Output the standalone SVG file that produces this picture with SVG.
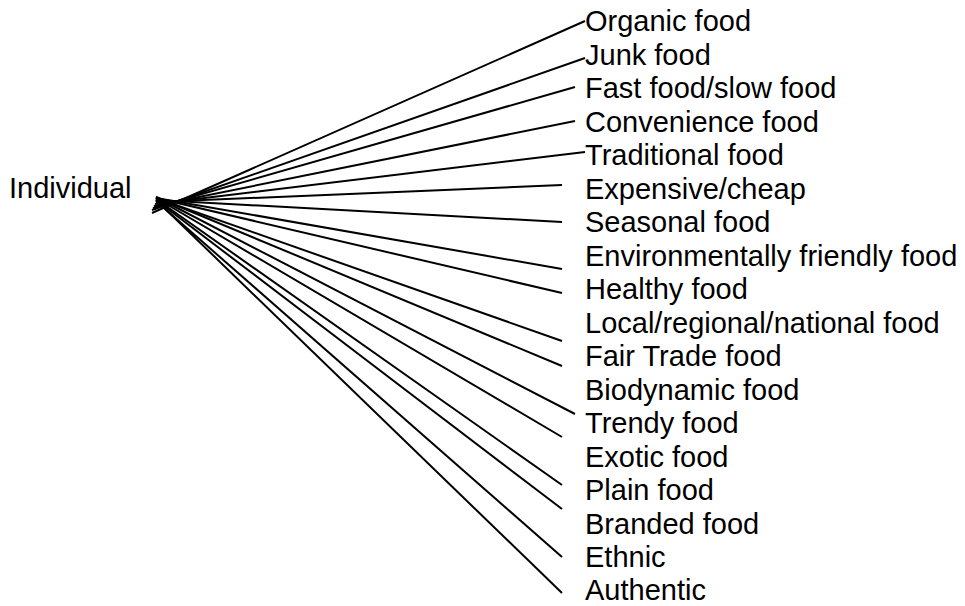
<svg xmlns="http://www.w3.org/2000/svg" width="965" height="606" viewBox="0 0 965 606">
  <style>
    .lbl { font-family: "Liberation Sans", Arial, sans-serif; font-size: 29px; fill: #000; }
    .edge { stroke: #000; stroke-width: 2; fill: none; stroke-linecap: butt; }
  </style>
  <rect width="965" height="606" fill="#fff"/>

  <!-- fan of connectors from the root label to each category -->
  <g id="connectors">
    <line class="edge" x1="152" y1="213" x2="585" y2="21"/>
    <line class="edge" x1="152" y1="210" x2="585" y2="58"/>
    <line class="edge" x1="153" y1="208" x2="575" y2="87"/>
    <line class="edge" x1="154" y1="206" x2="575" y2="121"/>
    <line class="edge" x1="155" y1="204" x2="585" y2="152"/>
    <line class="edge" x1="156" y1="202" x2="562" y2="185"/>
    <line class="edge" x1="156" y1="200" x2="562" y2="222"/>
    <line class="edge" x1="156" y1="198" x2="562" y2="269"/>
    <line class="edge" x1="156" y1="198" x2="562" y2="293"/>
    <line class="edge" x1="156" y1="198" x2="562" y2="341"/>
    <line class="edge" x1="156" y1="197" x2="562" y2="366"/>
    <line class="edge" x1="156" y1="197" x2="575" y2="414"/>
    <line class="edge" x1="156" y1="198" x2="562" y2="437"/>
    <line class="edge" x1="156" y1="199" x2="562" y2="485"/>
    <line class="edge" x1="156" y1="200" x2="562" y2="509"/>
    <line class="edge" x1="156" y1="201" x2="562" y2="557"/>
    <line class="edge" x1="156" y1="200" x2="562" y2="593"/>
  </g>

  <g id="individual"><text class="lbl" x="9" y="198">Individual</text></g>

  <g id="organic"><text class="lbl" x="585" y="31">Organic food</text></g>
  <g id="junk"><text class="lbl" x="585" y="64.5">Junk food</text></g>
  <g id="fast-slow"><text class="lbl" x="585" y="98">Fast food/slow food</text></g>
  <g id="convenience"><text class="lbl" x="585" y="131.5">Convenience food</text></g>
  <g id="traditional"><text class="lbl" x="585" y="165">Traditional food</text></g>
  <g id="expensive-cheap"><text class="lbl" x="585" y="198.5">Expensive/cheap</text></g>
  <g id="seasonal"><text class="lbl" x="585" y="232">Seasonal food</text></g>
  <g id="environmental"><text class="lbl" x="585" y="265.5">Environmentally friendly food</text></g>
  <g id="healthy"><text class="lbl" x="585" y="299">Healthy food</text></g>
  <g id="local"><text class="lbl" x="585" y="332.5">Local/regional/national food</text></g>
  <g id="fair-trade"><text class="lbl" x="585" y="366">Fair Trade food</text></g>
  <g id="biodynamic"><text class="lbl" x="585" y="399.5">Biodynamic food</text></g>
  <g id="trendy"><text class="lbl" x="585" y="433">Trendy food</text></g>
  <g id="exotic"><text class="lbl" x="585" y="466.5">Exotic food</text></g>
  <g id="plain"><text class="lbl" x="585" y="500">Plain food</text></g>
  <g id="branded"><text class="lbl" x="585" y="533.5">Branded food</text></g>
  <g id="ethnic"><text class="lbl" x="585" y="567">Ethnic</text></g>
  <g id="authentic"><text class="lbl" x="585" y="600">Authentic</text></g>
</svg>
